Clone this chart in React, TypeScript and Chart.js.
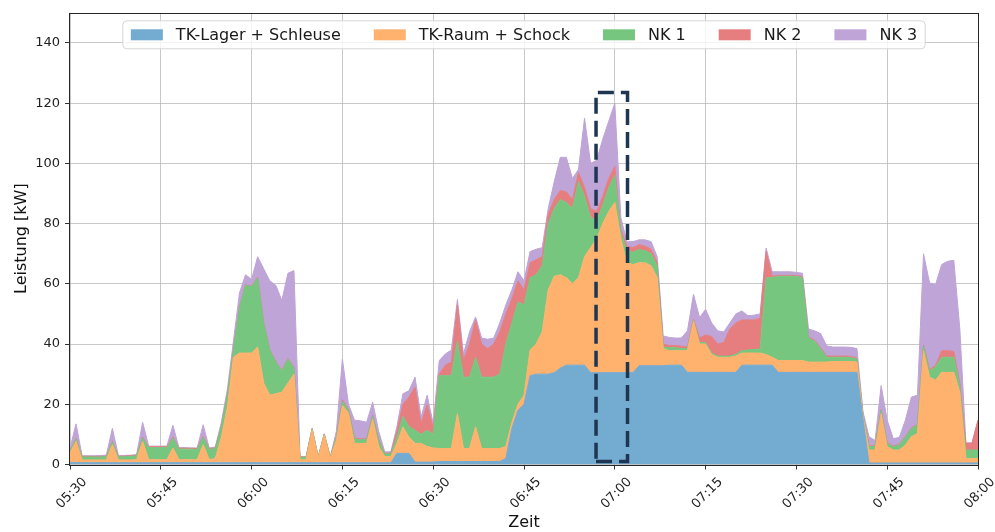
import React, { useEffect, useRef } from 'react';
import { Chart, registerables } from 'chart.js';

Chart.register(...registerables);

// Time axis: minutes after 05:30, one sample per minute (0 .. 150)
const tickLabels = ['05:30', '05:45', '06:00', '06:15', '06:30', '06:45', '07:00', '07:15', '07:30', '07:45', '08:00'];
const seriesNames = ['TK-Lager + Schleuse', 'TK-Raum + Schock', 'NK 1', 'NK 2', 'NK 3'];

const tkLager = [
  0.6, 0.6, 0.6, 0.6, 0.6, 0.6, 0.6, 0.6, 0.6, 0.6,
  0.6, 0.6, 0.6, 0.6, 0.6, 0.6, 0.6, 0.6, 0.6, 0.6,
  0.6, 0.6, 0.6, 0.6, 0.6, 0.6, 0.6, 0.6, 0.6, 0.6,
  0.6, 0.6, 0.6, 0.6, 0.6, 0.6, 0.6, 0.6, 0.6, 0.6,
  0.6, 0.6, 0.6, 0.6, 0.6, 0.6, 0.6, 0.6, 0.6, 0.6,
  0.6, 0.6, 0.6, 0.6, 3.7, 3.7, 3.7, 0.8, 0.8, 0.8,
  0.8, 1, 1, 1, 1, 1, 1, 1, 1, 1,
  1, 1, 2, 12, 18, 20, 29.5, 30, 30, 30,
  30.5, 32, 33, 33, 33, 33, 30.5, 30.5, 30.5, 30.5,
  30.5, 30.5, 30.5, 30.5, 32.8, 32.8, 32.8, 32.8, 32.8, 33,
  33, 33, 30.6, 30.6, 30.6, 30.6, 30.6, 30.6, 30.6, 30.6,
  30.6, 33, 33, 33, 33, 33, 33, 30.6, 30.6, 30.6,
  30.6, 30.6, 30.6, 30.6, 30.6, 30.6, 30.6, 30.6, 30.6, 30.6,
  30.6, 15, 0.5, 0.5, 0.5, 0.5, 0.5, 0.5, 0.5, 0.5,
  0.5, 0.5, 0.5, 0.5, 0.5, 0.5, 0.5, 0.5, 0.5, 0.5,
  0.5,
];

const tkRaum = [
  3.2, 7.1, 0.9, 0.9, 0.9, 0.9, 0.9, 6.0, 0.9, 0.9,
  0.9, 1.0, 7.1, 1.0, 1.0, 1.0, 1.0, 4.9, 1.0, 1.0,
  1.0, 1.0, 6.0, 1.0, 1.4, 8.4, 18.4, 35.0, 36.4, 36.4,
  36.4, 38.4, 26.4, 22.4, 22.9, 23.4, 26.4, 29.4, 1.0, 1.0,
  10.9, 1.6, 9.2, 1.6, 7.4, 19.0, 16.4, 6.4, 6.4, 6.4,
  14.4, 5.4, 2.0, 2.0, 3.3, 8.8, 5.3, 6.2, 6.2, 5.2,
  4.7, 4.3, 4.3, 4.3, 15.9, 4.3, 4.3, 11.5, 4.3, 4.3,
  4.3, 4.3, 4, 2, 2, 3, 8.5, 10, 14, 28,
  32, 31, 29, 27, 29, 36, 41.5, 44.5, 49.5, 53.5,
  56.5, 44.5, 36.5, 35.9, 34.2, 34.2, 33.2, 29.2, 5.7, 4.8,
  4.8, 4.8, 7.2, 17.1, 9.4, 9.4, 5.9, 5.0, 5.0, 5.0,
  5.4, 4, 4, 4, 4, 3.5, 2.6, 3.9, 3.9, 3.9,
  3.9, 3.9, 3.4, 3.4, 3.4, 3.4, 3.6, 3.6, 3.6, 3.6,
  3.4, 1, 4.3, 4.3, 16.4, 5.4, 4.3, 4.3, 6.0, 8.7,
  9.8, 37.3, 28.5, 27.5, 30.1, 30.1, 30.1, 23.5, 1.5, 1.5,
  1.5,
];

const nk1 = [
  0.5, 0.8, 1.0, 1.0, 1.0, 1.0, 1.1, 0.9, 1.0, 1.1,
  1.2, 1.3, 1.1, 4.0, 4.0, 4.0, 4.0, 3.3, 3.5, 3.5,
  3.5, 3.4, 2.4, 3.4, 3.3, 3.5, 4.0, 2.4, 15.0, 22.5,
  22.0, 23.0, 20.0, 15.0, 10.5, 7.0, 8.0, 2.0, 0.8, 0.8,
  0.3, 0.2, 0.2, 0.2, 1.0, 1.4, 1.0, 1.5, 1.2, 1.2,
  1.0, 2.0, 0.9, 0.9, 2.0, 3.5, 3.5, 4.4, 3.0, 5.4,
  4.5, 24.2, 24.2, 24.2, 24.1, 23.7, 23.7, 23.1, 23.7, 23.7,
  23.7, 24.7, 34, 33, 34, 30, 24, 23, 22, 22,
  22.5, 25, 25, 25, 32, 20, 10, 6, 6, 8,
  9, 2, 4, 4.1, 4.4, 4.0, 4, 4, 0.5, 1,
  1, 0.7, 0.7, 0.2, 0.5, 0.5, 0.5, 0.4, 0.4, 0.4,
  0.5, 0.8, 1, 1.2, 1.3, 25.5, 26.4, 28, 28, 28,
  28, 27.5, 8, 7, 4.5, 1.6, 1.4, 1.4, 1.4, 1.3,
  1.0, 0.5, 1.2, 1.2, 1.1, 1.1, 1.1, 1.7, 2.5, 2.8,
  2.7, 1.6, 2, 4.5, 5, 5, 5, 2, 2.8, 2.8,
  2.8,
];

const nk2 = [
  0.2, 0.2, 0.2, 0.2, 0.2, 0.2, 0.2, 0.2, 0.2, 0.2,
  0.2, 0.2, 0.2, 0.3, 0.3, 0.3, 0.3, 0.3, 0.3, 0.3,
  0.3, 0.3, 0.3, 0.3, 0.2, 0.2, 0.2, 0.2, 0.2, 0.2,
  0.2, 0.2, 0.2, 0.2, 0.2, 0.2, 0.2, 0.2, 0.1, 0.1,
  0.1, 0.1, 0.1, 0.1, 0.2, 0.5, 0.3, 0.3, 0.3, 0.3,
  0.3, 0.3, 0.2, 0.2, 2.0, 4.0, 9.9, 14.3, 3.6, 8.6,
  2.0, 0.5, 3.5, 4.5, 12.0, 5.5, 11.0, 12.4, 11.0, 9.5,
  11.0, 14.0, 10, 8, 7, 5, 5, 5, 3, 3,
  3, 3, 3.5, 3, 3, 3, 3, 3, 3, 3,
  3, 1, 1.5, 1.5, 1.6, 1.5, 1.5, 1, 1, 0.7,
  0.7, 0.8, 0.5, 0.3, 1.5, 2.5, 5.5, 4.0, 4.5, 9,
  10.5, 10.2, 10, 9.8, 10.2, 8.8, 0.5, 0.3, 0.3, 0.3,
  0.3, 0.3, 0.3, 0.3, 0.3, 0.4, 0.4, 0.4, 0.4, 0.4,
  0.3, 0.2, 0.2, 0.2, 0.2, 0.2, 0.2, 0.2, 0.2, 0.2,
  0.2, 0.3, 0.5, 0.5, 2.2, 2.2, 1.9, 1, 2.2, 2.2,
  9.9,
];

const nk3 = [
  1.0, 4.8, 0.2, 0.2, 0.2, 0.3, 0.3, 4.3, 0.2, 0.2,
  0.2, 0.2, 5.0, 0.2, 0.2, 0.2, 0.2, 3.9, 0.2, 0.2,
  0.1, 0.2, 3.9, 0.2, 0.3, 1.3, 1.8, 2.8, 4.8, 3.3,
  2.3, 6.8, 17.8, 22.8, 25.3, 23.3, 28.3, 32.2, 0.1, 0.1,
  0.1, 0.1, 0.1, 0.1, 1.8, 13.5, 1.7, 5.9, 6.0, 5.5,
  4.4, 2.7, 0.5, 0.5, 1.5, 3.5, 2.1, 3.3, 2.2, 3.0,
  1.6, 4.5, 3.7, 4.0, 1.8, 2.2, 4.0, 1.0, 2.0, 3.1,
  2.0, 3.0, 3, 3, 3, 3, 3.7, 3.5, 3, 2,
  6, 11, 11.5, 7, 1, 23, 15, 17, 19, 19,
  21, 4, 1.5, 2, 1.6, 2.1, 2.5, 2, 2.7, 2.7,
  2.5, 2.7, 5.4, 8.3, 6.8, 8.5, 4.5, 4.4, 3.5, 2,
  3, 3, 1.4, 1.6, 1.5, 1.1, 1.5, 1.2, 1.2, 1.2,
  1.0, 1.2, 2.7, 3.1, 4.7, 3.4, 3.0, 3.0, 3.0, 3.0,
  3.2, 0.8, 3.0, 1.8, 8.0, 7.5, 2.5, 2.3, 5.5, 10.2,
  9.8, 30.3, 28.8, 26.8, 28.6, 29.7, 30.3, 18, 0.2, 0.2,
  0,
];

const seriesColors = ['#74abd1', '#ffb26e', '#77c680', '#e67d7e', '#bfa4d7'];

// Highlighted time window (minutes after 05:30, kW)
const highlightBox = { xMin: 86.9, xMax: 92.1, yMin: 1, yMax: 123.5 };

const FONT = "'DejaVu Sans', Verdana, sans-serif";

export default function App() {
  const ref = useRef<HTMLCanvasElement>(null);

  useEffect(() => {
    if (!ref.current) return;
    const series = [tkLager, tkRaum, nk1, nk2, nk3];
    const datasets = series.map((vals, i) => ({
      label: seriesNames[i],
      data: vals.map((v, k) => ({ x: k, y: v })),
      backgroundColor: seriesColors[i],
      borderColor: seriesColors[i],
      borderWidth: 1,
      pointRadius: 0,
      pointHoverRadius: 0,
      fill: i === 0 ? 'origin' : '-1',
      tension: 0,
    }));

    const extras = {
      id: 'extras',
      afterDraw(chart: any) {
        const { ctx, chartArea: a, scales } = chart;
        const xs = scales.x;
        const ys = scales.y;
        // dashed highlight box
        const l = xs.getPixelForValue(highlightBox.xMin);
        const r = xs.getPixelForValue(highlightBox.xMax);
        const t = ys.getPixelForValue(highlightBox.yMax);
        const b = ys.getPixelForValue(highlightBox.yMin);
        ctx.save();
        ctx.strokeStyle = '#1e3652';
        ctx.lineWidth = 3.5;
        ctx.setLineDash([16, 7]);
        ctx.beginPath();
        ctx.moveTo(l, b);
        ctx.lineTo(r, b);
        ctx.lineTo(r, t);
        ctx.lineTo(l, t);
        ctx.closePath();
        ctx.stroke();
        ctx.restore();

        // axes frame
        ctx.save();
        ctx.strokeStyle = '#262626';
        ctx.lineWidth = 1;
        ctx.strokeRect(Math.round(a.left) - 0.5, Math.round(a.top) + 0.5, Math.round(a.right - a.left) + 1, Math.round(a.bottom - a.top));
        ctx.restore();

        // legend inside the axes, top centre
        ctx.save();
        ctx.font = `16px ${FONT}`;
        const pad = 8, handleW = 32, handleH = 11, textPad = 13, colGap = 33, h = 28;
        const widths = seriesNames.map((n) => ctx.measureText(n).width);
        let total = pad * 2 + colGap * (seriesNames.length - 1);
        widths.forEach((w) => { total += handleW + textPad + w; });
        const x0 = (a.left + a.right) / 2 - total / 2;
        const y0 = a.top + 8;
        ctx.beginPath();
        if ((ctx as any).roundRect) (ctx as any).roundRect(x0, y0, total, h, 4);
        else ctx.rect(x0, y0, total, h);
        ctx.fillStyle = 'rgba(255,255,255,0.8)';
        ctx.fill();
        ctx.strokeStyle = '#d6d6d6';
        ctx.lineWidth = 1;
        ctx.stroke();
        let x = x0 + pad;
        const cy = y0 + h / 2;
        seriesNames.forEach((n, i) => {
          ctx.fillStyle = seriesColors[i];
          ctx.fillRect(x, cy - handleH / 2, handleW, handleH);
          ctx.fillStyle = '#1a1a1a';
          ctx.textBaseline = 'middle';
          ctx.textAlign = 'left';
          ctx.fillText(n, x + handleW + textPad, cy + 1);
          x += handleW + textPad + widths[i] + colGap;
        });
        ctx.restore();
      },
    };

    const chart = new Chart(ref.current, {
      type: 'line',
      data: { datasets: datasets as any },
      options: {
        responsive: false,
        animation: false,
        events: [],
        layout: { padding: { left: 0, right: 17, top: 10, bottom: 0 } },
        plugins: { legend: { display: false }, tooltip: { enabled: false } },
        elements: { line: { borderJoinStyle: 'round' } },
        scales: {
          x: {
            type: 'linear',
            min: 0,
            max: 150,
            z: 1,
            ticks: {
              stepSize: 15,
              autoSkip: false,
              maxRotation: 45,
              minRotation: 45,
              labelOffset: 15,
              padding: 5,
              color: '#222',
              font: { family: FONT, size: 13 },
              callback: (v: any) => tickLabels[Math.round(Number(v) / 15)] ?? '',
            },
            grid: { color: 'rgba(176,176,176,0.7)', lineWidth: 1, tickLength: 5, tickColor: '#333' },
            border: { display: false },
            title: { display: true, text: 'Zeit', color: '#111', font: { family: FONT, size: 16 }, padding: { top: 0, bottom: 0 } },
            afterFit: (s: any) => { s.height = 67.5; },
          },
          y: {
            type: 'linear',
            min: 0,
            max: 150,
            stacked: true,
            z: 1,
            ticks: { stepSize: 20, padding: 5, color: '#222', font: { family: FONT, size: 13 } },
            grid: { color: 'rgba(176,176,176,0.7)', lineWidth: 1, tickLength: 5, tickColor: '#333' },
            border: { display: false },
            title: { display: true, text: 'Leistung [kW]', color: '#111', font: { family: FONT, size: 16 }, padding: { top: 12, bottom: 0 } },
            afterBuildTicks: (s: any) => { s.ticks = s.ticks.filter((t: any) => t.value <= 140); },
            afterFit: (s: any) => { s.width = 70; },
          },
        },
      } as any,
      plugins: [extras],
    });
    return () => chart.destroy();
  }, []);

  return (
    <div style={{ position: 'fixed', left: 0, top: 0, width: 995, height: 532, background: '#fff' }}>
      <canvas ref={ref} width={995} height={532} style={{ display: 'block' }} />
    </div>
  );
}
